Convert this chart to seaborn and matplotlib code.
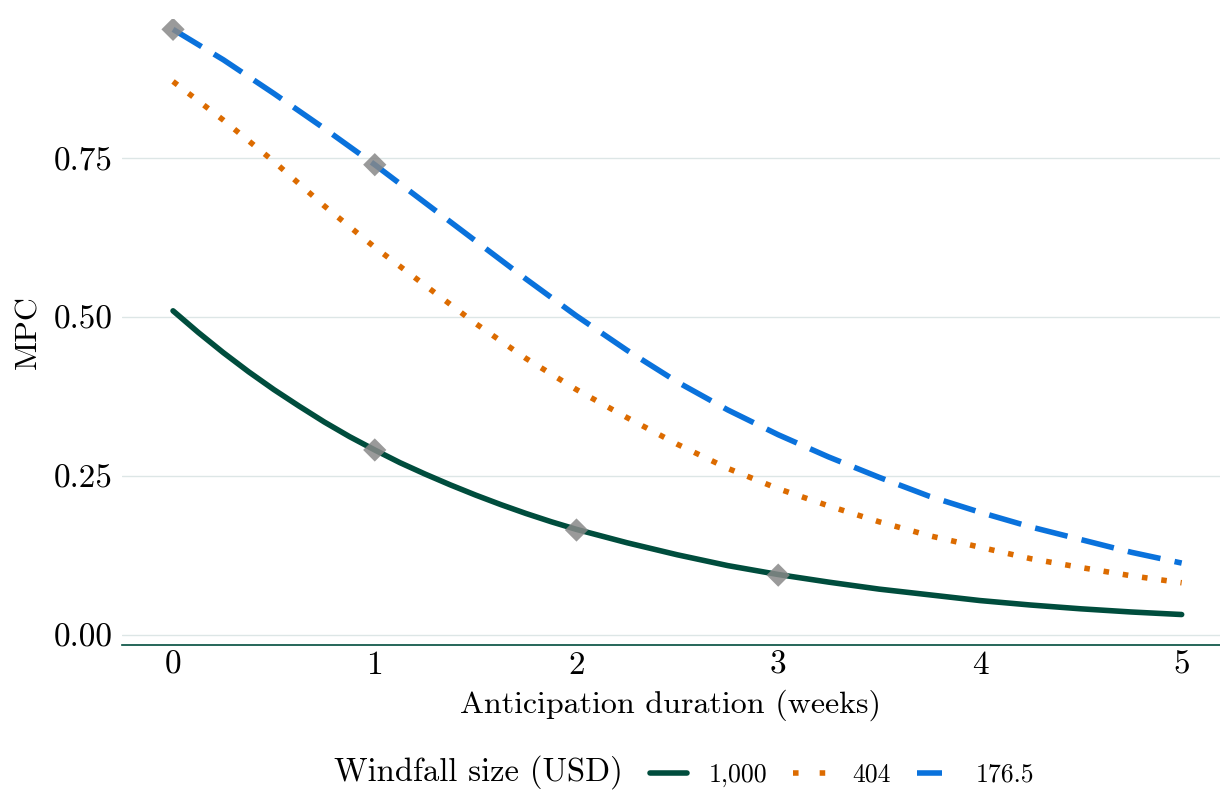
import pandas as pd
import numpy as np
import matplotlib.pyplot as plt
import seaborn as sns

sns.set_style("white")
plt.rcParams["font.family"] = ["cmr10", "DejaVu Serif"]
plt.rcParams["axes.formatter.use_mathtext"] = True
plt.rcParams["text.color"] = "black"
plt.rcParams["axes.labelcolor"] = "black"
plt.rcParams["xtick.color"] = "black"
plt.rcParams["ytick.color"] = "black"

# anticipation duration grid (weeks)
weeks = [0, 0.25, 0.5, 0.75, 1, 1.25, 1.5, 1.75, 2, 2.25, 2.5,
         2.75, 3, 3.25, 3.5, 3.75, 4, 4.25, 4.5, 4.75, 5]
weeks_fine = [0, 0.125, 0.25, 0.375, 0.5, 0.625, 0.75, 0.875, 1, 1.125, 1.25,
              1.375, 1.5, 1.625, 1.75, 1.875, 2, 2.25, 2.5, 2.75, 3, 3.25,
              3.5, 3.75, 4, 4.25, 4.5, 4.75, 5]

mpc_1000 = [0.510, 0.476, 0.444, 0.414, 0.386, 0.360, 0.335, 0.312, 0.291, 0.271, 0.253,
            0.236, 0.220, 0.205, 0.191, 0.178, 0.166, 0.145, 0.126, 0.109, 0.095, 0.083,
            0.072, 0.063, 0.054, 0.047, 0.041, 0.036, 0.032]
mpc_404 = [0.871, 0.810, 0.745, 0.675, 0.610, 0.550, 0.490, 0.435, 0.386, 0.342, 0.300,
           0.262, 0.230, 0.203, 0.178, 0.156, 0.138, 0.120, 0.106, 0.093, 0.082]
mpc_176 = [0.953, 0.905, 0.852, 0.797, 0.740, 0.680, 0.620, 0.560, 0.502, 0.448, 0.398,
           0.354, 0.315, 0.280, 0.248, 0.218, 0.193, 0.170, 0.150, 0.130, 0.113]

# empirical points (gray diamonds)
emp_weeks = [0, 1, 1, 2, 3]
emp_mpc = [0.953, 0.740, 0.291, 0.165, 0.094]

sizes = ["1,000", "404", "176.5"]
colors = {"1,000": "#004d3d", "404": "#dc6b00", "176.5": "#0a72dc"}
dashes = {"1,000": "", "404": (1, 2.5), "176.5": (6, 2.6)}
key_dashes = {"1,000": (None, None), "404": (1, 3.8), "176.5": (4.5, 4)}

df = pd.DataFrame({
    "weeks": weeks_fine + weeks + weeks,
    "MPC": mpc_1000 + mpc_404 + mpc_176,
    "size": ["1,000"] * len(weeks_fine) + ["404"] * len(weeks) + ["176.5"] * len(weeks),
})

fig = plt.figure(figsize=(12.2, 7.93), dpi=100)
ax = fig.add_axes([0.1, 0.1866, 0.9, 0.79])

sns.lineplot(data=df, x="weeks", y="MPC", hue="size", style="size",
             hue_order=sizes, style_order=sizes, palette=colors, dashes=dashes,
             linewidth=4, ax=ax, legend=False)
for line in ax.lines:
    line.set_dash_capstyle("butt")

sns.scatterplot(x=emp_weeks, y=emp_mpc, marker="D", s=140, color="#888888",
                alpha=0.85, edgecolor="none", ax=ax, zorder=5)

ax.set_xlim(-0.253, 5.19)
ax.set_ylim(-0.016, 0.97)
ax.set_xticks([0, 1, 2, 3, 4, 5])
ax.set_xticklabels(["0", "1", "2", "3", "4", "5"])
ax.set_yticks([0, 0.25, 0.5, 0.75])
ax.set_yticklabels(["0.00", "0.25", "0.50", "0.75"])
ax.tick_params(axis="both", length=0, labelsize=24)
ax.tick_params(axis="y", pad=7)
ax.tick_params(axis="x", pad=4)
ax.grid(axis="y", color="#dde6e6", linewidth=1)
ax.set_axisbelow(True)
for s in ["top", "right", "left"]:
    ax.spines[s].set_visible(False)
ax.spines["bottom"].set_color("#004d3d")
ax.spines["bottom"].set_linewidth(1.2)

ax.set_xlabel("Anticipation duration (weeks)", fontsize=23, labelpad=7)
ax.set_ylabel("MPC", fontsize=23, labelpad=8)

# legend along the bottom, title inline
handles = [plt.Line2D([], [], color=colors[k], linewidth=4,
                      dashes=key_dashes[k], dash_capstyle="butt") for k in sizes]
fig.text(0.274, 0.005, "Windfall size (USD)", fontsize=23.5, va="bottom")
fig.legend(handles, sizes, loc="lower left", bbox_to_anchor=(0.518, -0.015),
           ncol=3, frameon=False, fontsize=18.5, handlelength=1.45,
           columnspacing=1.0, handletextpad=0.85, borderaxespad=0.3)

fig.savefig("out.png", dpi=100)
